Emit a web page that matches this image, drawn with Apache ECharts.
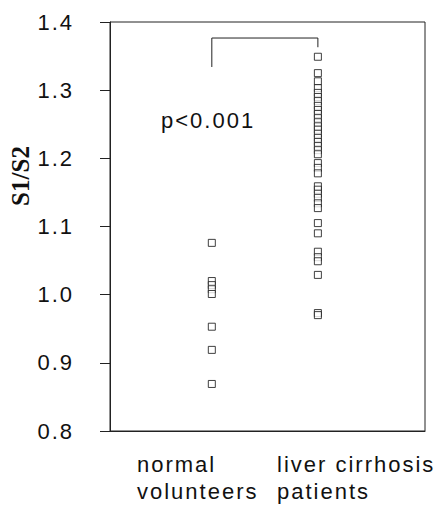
<!DOCTYPE html>
<html>
<head>
<meta charset="utf-8">
<script src="https://cdn.jsdelivr.net/npm/echarts@6/dist/echarts.min.js"></script>
<style>
html, body { margin: 0; padding: 0; background: #fff; }
#main { width: 445px; height: 508px; letter-spacing: 2px; }
#main text[style*="serif"] { letter-spacing: 0; }
</style>
</head>
<body>
<div id="main"></div>
<script>
// groups and their x position on the value axis
var groups = ['normal\nvolunteers', 'liver cirrhosis\npatients'];
var groupX = [1, 2];
var yTicks = [0.8, 0.9, 1.0, 1.1, 1.2, 1.3, 1.4];

// S1/S2
var normalValues = [1.076, 1.020, 1.014, 1.008, 1.001, 0.953, 0.919, 0.869];
var cirrhosisValues = [
    1.349, 1.325, 1.313, 1.303, 1.296, 1.290, 1.284, 1.277, 1.271, 1.265,
    1.259, 1.253, 1.247, 1.242, 1.236, 1.230, 1.224, 1.218, 1.212, 1.206,
    1.193, 1.186, 1.178, 1.159, 1.154, 1.148, 1.142, 1.134, 1.127, 1.105,
    1.090, 1.063, 1.055, 1.049, 1.029, 0.973, 0.970
];
// significance bracket
var bracketX = [1, 1, 2, 2];
var bracketY = [1.334, 1.3765, 1.3765, 1.363];

function toPoints(x, vals) {
    return vals.map(function (v) { return [x, v]; });
}

var myChart = echarts.init(document.getElementById('main'), null, {renderer: 'svg'});
var pointStyle = {
    color: '#fff',
    borderColor: '#111',
    borderWidth: 1
};
var option = {
    animation: false,
    grid: {
        left: 110, right: 20, top: 22, bottom: 77,
        show: true, borderColor: '#222', borderWidth: 1
    },
    xAxis: {
        type: 'value',
        min: 0.04,
        max: 3.01,
        axisLine: { lineStyle: { color: '#222' } },
        axisTick: { show: false },
        axisLabel: { show: false },
        splitLine: { show: false }
    },
    yAxis: {
        type: 'value',
        min: yTicks[0],
        max: yTicks[yTicks.length - 1],
        interval: 0.1,
        axisLine: { show: true, lineStyle: { color: '#222' } },
        axisTick: { show: true, inside: false, length: 10, lineStyle: { color: '#222' } },
        axisLabel: {
            margin: 36,
            color: '#111',
            fontSize: 22,
            fontFamily: 'Liberation Sans',
            formatter: function (v) { return v.toFixed(1); }
        },
        splitLine: { show: false }
    },
    graphic: [
        {
            type: 'text', x: 20, y: 176, rotation: Math.PI / 2,
            style: {
                text: 'S1/S2', fill: '#111', font: 'bold 25px "Liberation Serif", serif',
                textAlign: 'center', textVerticalAlign: 'middle'
            }
        },
        {
            type: 'text', left: 161, top: 109,
            style: { text: 'p<0.001', fill: '#111', font: '22px "Liberation Sans"' }
        },
        {
            type: 'text', left: 137, top: 451,
            style: { text: groups[0], fill: '#111', font: '22px "Liberation Sans"', lineHeight: 27 }
        },
        {
            type: 'text', left: 277, top: 451,
            style: { text: groups[1], fill: '#111', font: '22px "Liberation Sans"', lineHeight: 27 }
        }
    ],
    series: [
        {
            type: 'line',
            data: bracketX.map(function (x, i) { return [x, bracketY[i]]; }),
            symbol: 'none',
            lineStyle: { color: '#222', width: 1 },
            silent: true
        },
        {
            type: 'scatter',
            data: toPoints(groupX[0], normalValues),
            symbol: 'rect',
            symbolSize: 7,
            itemStyle: pointStyle
        },
        {
            type: 'scatter',
            data: toPoints(groupX[1], cirrhosisValues),
            symbol: 'rect',
            symbolSize: 7,
            itemStyle: pointStyle
        }
    ]
};
myChart.setOption(option);
</script>
</body>
</html>
